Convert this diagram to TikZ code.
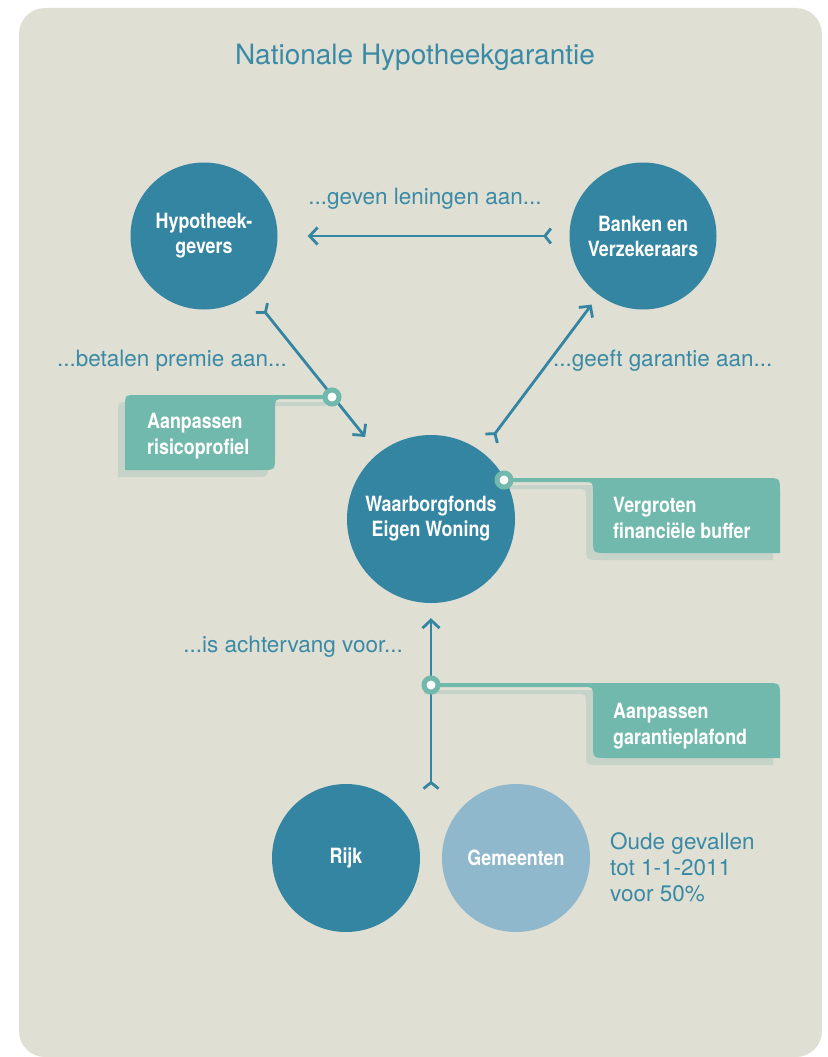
\documentclass[tikz,border=0pt]{standalone}
\usepackage{fontspec}
\setmainfont{TeX Gyre Heros}
\newfontfamily\condfont[FakeStretch=0.85]{TeX Gyre Heros}
\usetikzlibrary{arrows.meta}

\definecolor{panelbg}{RGB}{223,223,211}
\definecolor{nhgblue}{RGB}{52,133,162}
\definecolor{nhglight}{RGB}{143,184,204}
\definecolor{labelblue}{RGB}{58,138,166}
\definecolor{boxgreen}{RGB}{114,185,173}
\definecolor{boxshadow}{RGB}{198,211,200}

\begin{document}
\begin{tikzpicture}[x=1pt, y=-1pt,
	party/.style={circle, fill=nhgblue, minimum size=147pt, inner sep=0pt, text=white, align=center, font=\condfont\bfseries\fontsize{21}{25}\selectfont},
	flow/.style={draw=nhgblue, line width=2.8pt, arrows={Straight Barb[reversed,length=6pt,width=15pt]-Straight Barb[length=8pt,width=17pt]}},
	flowlabel/.style={text=labelblue, inner sep=0pt, font=\fontsize{22.5}{26}\selectfont},
	marker/.style={circle, draw=boxgreen, fill=white, line width=5pt, minimum size=14pt, inner sep=0pt},
	boxtext/.style={text=white, align=left, inner sep=0pt, anchor=west, font=\condfont\bfseries\fontsize{21}{25.5}\selectfont}]
	\useasboundingbox (0,0) rectangle (827,1057);
	\fill[panelbg, rounded corners=26pt] (19,8) rectangle (822,1057);
	
	\node[text=labelblue, font=\fontsize{28}{32}\selectfont] (title) at (415,57) {Nationale Hypotheekgarantie};
	
	% schaduw van de kaders
	\begin{scope}[shift={(-7,7)}, boxshadow]
		\fill (332,395) -- (137,395) .. controls (125,395) .. (125,407) -- (125,470) -- (261,470) .. controls (275,470) .. (275,456) -- (275,409) .. controls (275,399) .. (285,399) -- (332,399) -- cycle;
		\fill (504,478) -- (766,478) .. controls (780,478) .. (780,492) -- (780,553) -- (607,553) .. controls (593,553) .. (593,539) -- (593,492) .. controls (593,482) .. (583,482) -- (504,482) -- cycle;
		\fill (431,683) -- (766,683) .. controls (780,683) .. (780,697) -- (780,758) -- (607,758) .. controls (593,758) .. (593,744) -- (593,697) .. controls (593,687) .. (583,687) -- (431,687) -- cycle;
	\end{scope}
	
	\node[party] (hypo) at (204,236) {Hypotheek-\\gevers};
	\node[party] (banken) at (643,236) {Banken en\\Verzekeraars};
	\node[party, minimum size=168pt] (wef) at (431,519) {Waarborgfonds\\Eigen Woning};
	\node[party, minimum size=148pt] (rijk) at (346,858) {Rijk};
	\node[party, minimum size=148pt, fill=nhglight] (gemeenten) at (516,858) {Gemeenten};
	
	% kaders
	\fill[boxgreen] (332,395) -- (137,395) .. controls (125,395) .. (125,407) -- (125,470) -- (261,470) .. controls (275,470) .. (275,456) -- (275,409) .. controls (275,399) .. (285,399) -- (332,399) -- cycle;
	\fill[boxgreen] (504,478) -- (766,478) .. controls (780,478) .. (780,492) -- (780,553) -- (607,553) .. controls (593,553) .. (593,539) -- (593,492) .. controls (593,482) .. (583,482) -- (504,482) -- cycle;
	\fill[boxgreen] (431,683) -- (766,683) .. controls (780,683) .. (780,697) -- (780,758) -- (607,758) .. controls (593,758) .. (593,744) -- (593,697) .. controls (593,687) .. (583,687) -- (431,687) -- cycle;
	\node[boxtext] (risico) at (147,436) {Aanpassen\\risicoprofiel};
	\node[boxtext] (buffer) at (613,518) {Vergroten\\financiële buffer};
	\node[boxtext] (plafond) at (613,726) {Aanpassen\\garantieplafond};
	
	\coordinate (achter) at (431,790);
	\draw[flow, shorten <=17pt, shorten >=30pt] (banken) -- (hypo);
	\draw[flow, shorten <=17pt, shorten >=21pt] (hypo) -- (wef);
	\draw[flow, shorten <=15pt, shorten >=12pt] (wef) -- (banken);
	\draw[flow, shorten >=15pt] (achter) -- (wef);
	
	\node[marker] (m1) at (332,397) {};
	\node[marker] (m2) at (504,480) {};
	\node[marker] (m3) at (431,685) {};
	
	\node[flowlabel] (lening) at (425,199) {...geven leningen aan...};
	\node[flowlabel, anchor=east] (premie) at (287,361) {...betalen premie aan...};
	\node[flowlabel, anchor=west] (garantie) at (553,361) {...geeft garantie aan...};
	\node[flowlabel, anchor=east] (achtervang) at (403,647) {...is achtervang voor...};
	\node[flowlabel, anchor=west, align=left] (oud) at (610,867) {Oude gevallen\\tot 1-1-2011\\voor 50\%};
\end{tikzpicture}
\end{document}
